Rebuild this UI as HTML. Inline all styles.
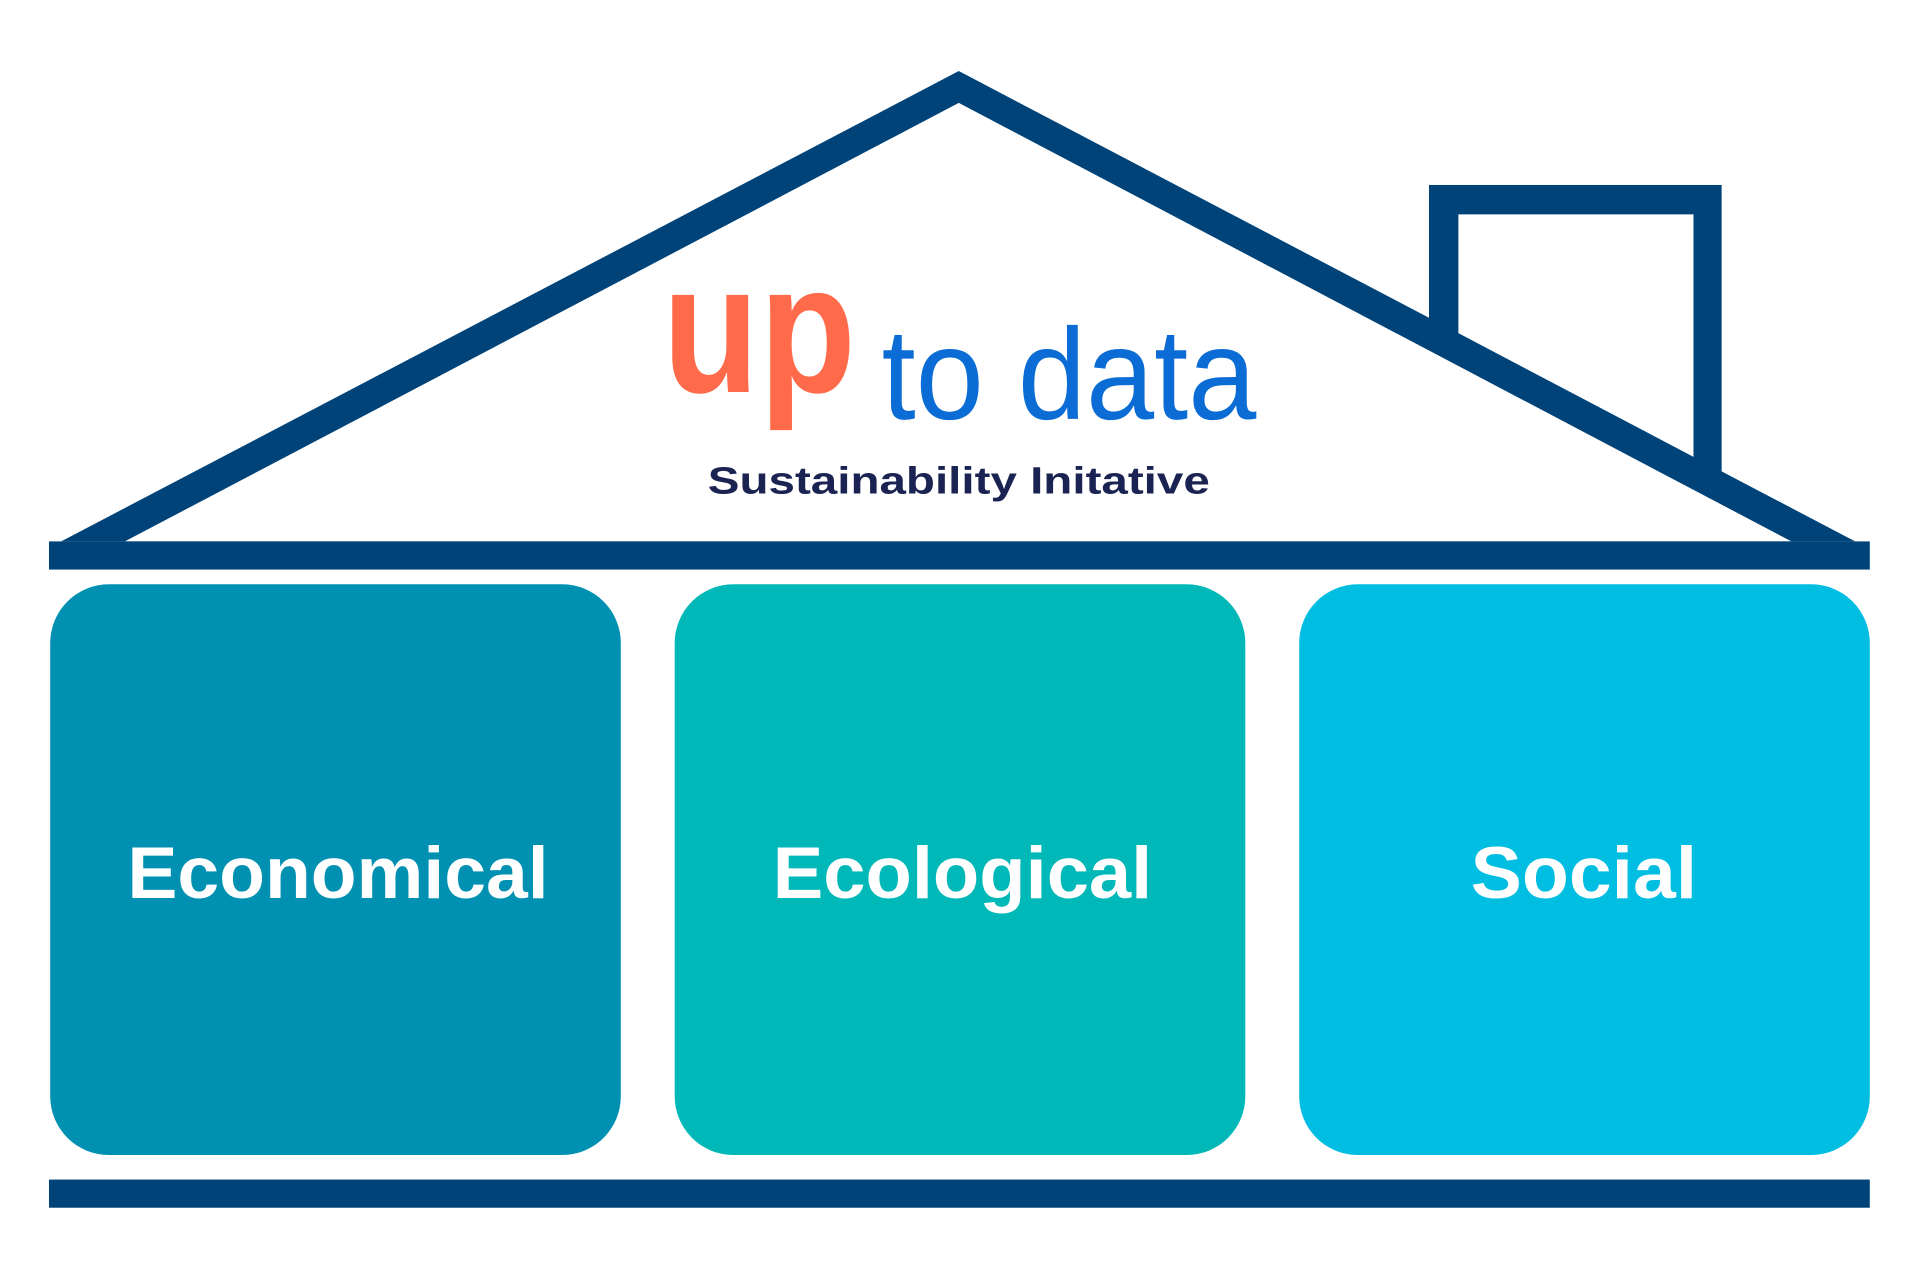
<!DOCTYPE html>
<html><head><meta charset="utf-8"><style>html,body{margin:0;padding:0;background:#fff}svg{display:block}</style></head>
<body>
<svg width="1920" height="1280" viewBox="0 0 1568 1045" preserveAspectRatio="none" xmlns="http://www.w3.org/2000/svg">
<rect x="0" y="0" width="1568" height="1045" fill="#fff"/>
<rect x="1167" y="151" width="239" height="250" fill="#004379"/>
<polygon points="50,442 783,58 1515,442" fill="#004379"/>
<polygon points="102,442 783,84 1463,442" fill="#fff"/>
<polygon points="1191,175 1383,175 1383,373 1191,272" fill="#fff"/>
<rect x="40" y="442" width="1487" height="23" fill="#004379"/>
<rect x="40" y="963" width="1487" height="23" fill="#004379"/>
<rect x="41" y="477" width="466" height="466" rx="48" fill="#0090b2"/>
<rect x="551" y="477" width="466" height="466" rx="48" fill="#00b8b8"/>
<rect x="1061" y="477" width="466" height="466" rx="48" fill="#00bde2"/>
<g font-family="Liberation Sans, sans-serif" font-weight="bold" fill="#fff" font-size="60">
<text x="104" y="733" textLength="344" lengthAdjust="spacingAndGlyphs">Economical</text>
<text x="631" y="733" textLength="310" lengthAdjust="spacingAndGlyphs">Ecological</text>
<text x="1201" y="733" textLength="185" lengthAdjust="spacingAndGlyphs">Social</text>
</g>
<text x="541" y="320" font-family="Liberation Sans, sans-serif" font-weight="bold" font-size="150" fill="#ff6b4a" textLength="158" lengthAdjust="spacingAndGlyphs">up</text>
<text x="720" y="342" font-family="Liberation Sans, sans-serif" font-size="106" fill="#0a6cd4" textLength="306" lengthAdjust="spacingAndGlyphs">to data</text>
<text x="578" y="403" font-family="Liberation Sans, sans-serif" font-weight="bold" font-size="31" fill="#1a2352" textLength="410" lengthAdjust="spacingAndGlyphs">Sustainability Initative</text>
</svg>
</body></html>
